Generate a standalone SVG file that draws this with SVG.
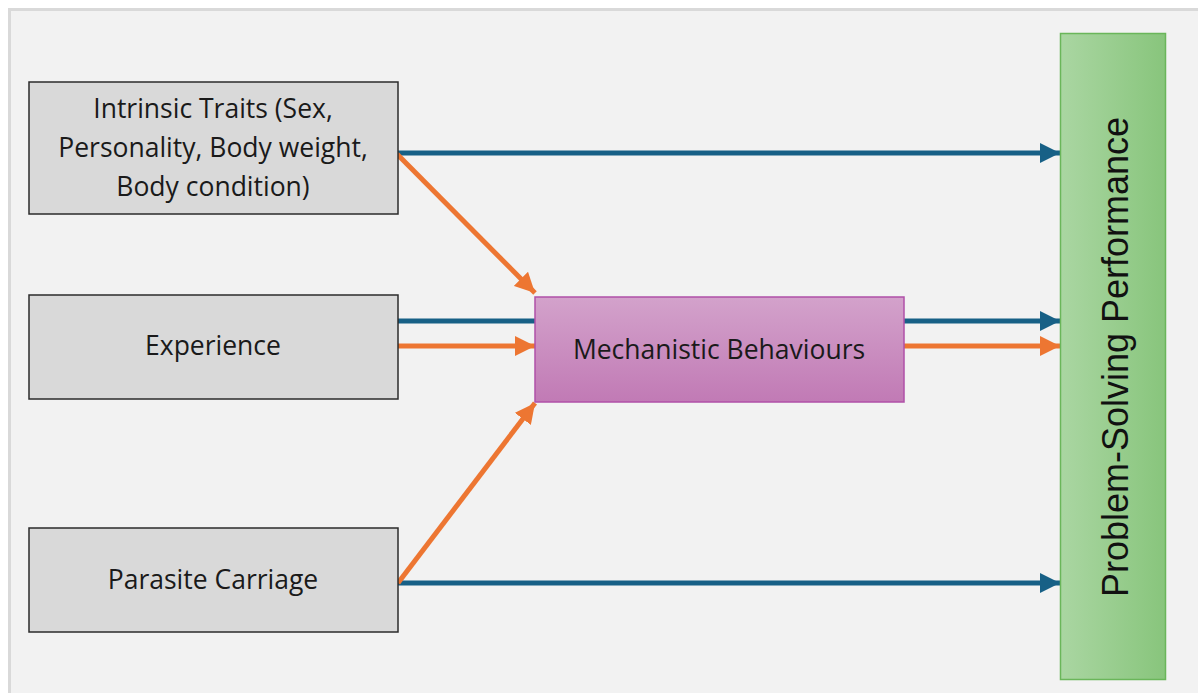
<svg xmlns="http://www.w3.org/2000/svg" width="1198" height="693" viewBox="0 0 1198 693">
<style>
.box{fill:#d9d9d9;stroke:#2b2b2b;stroke-width:1.5}
.lbl{font-family:"Open Sans","Noto Sans",sans-serif;font-size:26.5px;fill:#1a1a1a;text-anchor:middle}
.blue{stroke:#176086;stroke-width:5;fill:none}
.orange{stroke:#ed7632;stroke-width:5;fill:none}
</style>
<defs>
<marker id="hb" viewBox="0 0 10 10" refX="10" refY="5" markerUnits="userSpaceOnUse" markerWidth="20" markerHeight="20" orient="auto"><path d="M0,0 L10,5 L0,10 Z" fill="#176086"/></marker>
<marker id="ho" viewBox="0 0 10 10" refX="10" refY="5" markerUnits="userSpaceOnUse" markerWidth="20" markerHeight="20" orient="auto"><path d="M0,0 L10,5 L0,10 Z" fill="#ed7632"/></marker>
<linearGradient id="gp" x1="0" y1="0" x2="0" y2="1"><stop offset="0" stop-color="#d3a2cb"/><stop offset="1" stop-color="#c17ab5"/></linearGradient>
<linearGradient id="gg" x1="0" y1="0" x2="1" y2="0"><stop offset="0" stop-color="#aad6a2"/><stop offset="1" stop-color="#88c57c"/></linearGradient>
</defs>
<rect x="0" y="0" width="1198" height="693" fill="#ffffff"/>
<rect x="9.5" y="9.5" width="1200" height="700" fill="#f2f2f2" stroke="#d9d9d9" stroke-width="3"/>
<g id="connectors">
<line class="blue" x1="398" y1="153" x2="1060" y2="153" marker-end="url(#hb)"/>
<line class="blue" x1="398" y1="321" x2="535" y2="321"/>
<line class="blue" x1="904" y1="321" x2="1060" y2="321" marker-end="url(#hb)"/>
<line class="orange" x1="398" y1="346" x2="535" y2="346" marker-end="url(#ho)"/>
<line class="orange" x1="904" y1="346" x2="1060" y2="346" marker-end="url(#ho)"/>
<line class="blue" x1="398" y1="583" x2="1060" y2="583" marker-end="url(#hb)"/>
<line class="orange" x1="397" y1="154" x2="535" y2="293" marker-end="url(#ho)"/>
<line class="orange" x1="398" y1="583" x2="535" y2="403" marker-end="url(#ho)"/>
</g>
<g id="intrinsic">
<rect class="box" x="29" y="82" width="369" height="132"/>
<text class="lbl" x="213" y="118">Intrinsic Traits (Sex,</text>
<text class="lbl" x="213" y="157">Personality, Body weight,</text>
<text class="lbl" x="213" y="196">Body condition)</text>
</g>
<g id="experience">
<rect class="box" x="29" y="295" width="369" height="104"/>
<text class="lbl" x="213" y="355">Experience</text>
</g>
<g id="parasite">
<rect class="box" x="29" y="528" width="369" height="104"/>
<text class="lbl" x="213" y="589">Parasite Carriage</text>
</g>
<g id="mechanistic">
<rect x="535" y="297" width="369" height="105" fill="url(#gp)" stroke="#b050a8" stroke-width="1.5"/>
<text class="lbl" x="719" y="359">Mechanistic Behaviours</text>
</g>
<g id="performance">
<rect x="1060.5" y="33.5" width="105" height="646" fill="url(#gg)" stroke="#6ab65a" stroke-width="1.5"/>
<text x="1113" y="357" transform="rotate(-90 1113 357)" dy="15" font-family="Liberation Sans, Arial, sans-serif" font-size="36" fill="#111" text-anchor="middle">Problem-Solving Performance</text>
</g>
</svg>
